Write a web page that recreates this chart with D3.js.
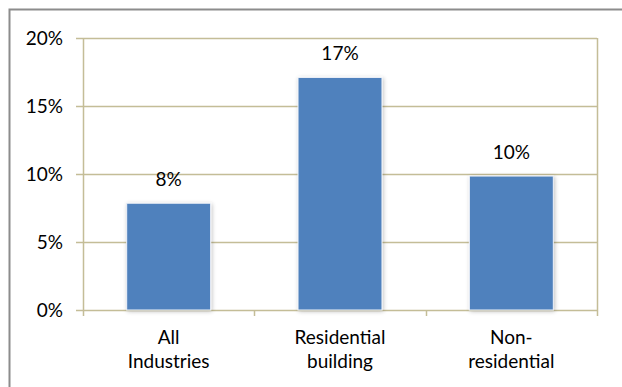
<!DOCTYPE html>
<html>
<head>
<meta charset="utf-8">
<script src="https://cdn.jsdelivr.net/npm/d3@7"></script>
<style>
  html, body { margin: 0; padding: 0; background: #fff; }
  svg { display: block; }
  text { font-family: Lato, "Open Sans", sans-serif; fill: #000; }
</style>
</head>
<body>
<svg id="chart" width="622" height="387"></svg>
<script>
// Share of workers by industry
const categories = [["All", "Industries"], ["Residential", "building"], ["Non-", "residential"]];
const values = [0.0785, 0.171, 0.0985];
const yTicks = [0, 0.05, 0.10, 0.15, 0.20];

const W = 622, H = 387;
const margin = { left: 83, right: 25, top: 38, bottom: 77 };
const fontSize = "19px";
const svg = d3.select("#chart");

// chart frame (only top and left edges fall inside the view)
svg.append("path")
  .attr("d", `M9.5,${H} V9.5 H${W}`)
  .attr("fill", "none")
  .attr("stroke", "#8c8c8c")
  .attr("stroke-width", 2);

const x = d3.scaleBand()
  .domain(d3.range(categories.length))
  .range([margin.left, W - margin.right])
  .paddingInner(0.51)
  .paddingOuter(0.255);

const y = d3.scaleLinear()
  .domain([0, 0.20])
  .range([H - margin.bottom, margin.top]);

const gridColor = "#c4bd97";
const fmt = d3.format(".0%");

// horizontal gridlines
svg.append("g")
  .selectAll("line")
  .data(yTicks)
  .join("line")
  .attr("x1", margin.left - 7)
  .attr("x2", W - margin.right)
  .attr("y1", d => Math.round(y(d)) + 0.5)
  .attr("y2", d => Math.round(y(d)) + 0.5)
  .attr("stroke", gridColor)
  .attr("stroke-width", 1.5);

// y axis
const yAxis = svg.append("g")
  .attr("transform", `translate(${margin.left},0)`)
  .call(d3.axisLeft(y).tickValues(yTicks).tickFormat(fmt).tickSize(7).tickPadding(13));
yAxis.select(".domain").remove();
yAxis.selectAll(".tick line").remove();
yAxis.selectAll("text").style("font-size", fontSize).style("font-family", "Lato, 'Open Sans', sans-serif").attr("fill", "#000");

// vertical axis lines and category ticks
const bottom = y(0);
const xEdges = [margin.left, margin.left + x.step(), margin.left + 2 * x.step(), W - margin.right];
svg.append("g")
  .selectAll("line")
  .data(xEdges)
  .join("line")
  .attr("x1", d => Math.round(d) + 0.5)
  .attr("x2", d => Math.round(d) + 0.5)
  .attr("y1", (d, i) => (i === 0 || i === 3) ? y(0.20) : bottom)
  .attr("y2", bottom + 6)
  .attr("stroke", gridColor)
  .attr("stroke-width", 1.5);

// soft shadow around bars
const defs = svg.append("defs");
const f = defs.append("filter").attr("id", "shadow").attr("x", "-20%").attr("y", "-20%").attr("width", "140%").attr("height", "140%");
f.append("feGaussianBlur").attr("in", "SourceAlpha").attr("stdDeviation", 2).attr("result", "b");
f.append("feOffset").attr("in", "b").attr("dx", 1).attr("dy", 1).attr("result", "o");
f.append("feComponentTransfer").attr("in", "o").attr("result", "s")
  .append("feFuncA").attr("type", "linear").attr("slope", 0.25);
const m = f.append("feMerge");
m.append("feMergeNode").attr("in", "s");
m.append("feMergeNode").attr("in", "SourceGraphic");

// bars
svg.append("g")
  .selectAll("rect")
  .data(values)
  .join("rect")
  .attr("x", (d, i) => x(i))
  .attr("y", d => y(d))
  .attr("width", x.bandwidth())
  .attr("height", d => bottom - y(d))
  .attr("fill", "#4f81bd")
  .attr("stroke", "#eef2f8")
  .attr("stroke-width", 1)
  .attr("filter", "url(#shadow)");

// value labels
svg.append("g")
  .selectAll("text")
  .data(values)
  .join("text")
  .attr("x", (d, i) => x(i) + x.bandwidth() / 2)
  .attr("y", d => y(d) - 17)
  .attr("text-anchor", "middle")
  .style("font-size", fontSize)
  .text(d => fmt(d));

// category labels (two lines)
const cat = svg.append("g")
  .selectAll("text")
  .data(categories)
  .join("text")
  .attr("text-anchor", "middle")
  .style("font-size", fontSize);
cat.selectAll("tspan")
  .data((d, i) => d.map(s => ({ s, i })))
  .join("tspan")
  .attr("x", d => x(d.i) + x.bandwidth() / 2)
  .attr("y", (d, j) => bottom + 34 + j * 24)
  .text(d => d.s);
</script>
</body>
</html>
